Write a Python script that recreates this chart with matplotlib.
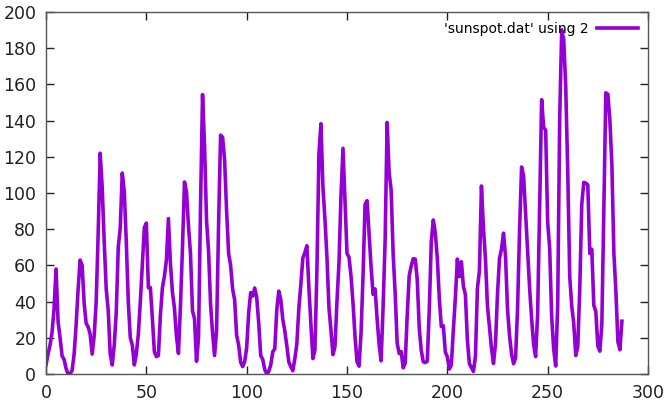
import numpy as np
import matplotlib
matplotlib.use("Agg")
import matplotlib.pyplot as plt

# yearly sunspot numbers, 1700-1987 (row index used as x, like gnuplot "using 2")
sunspots = [
    5, 11, 16, 23, 36, 58, 29, 20, 10, 8, 3, 0, 0, 2, 11, 27, 47, 63, 60, 39,
    28, 26, 22, 11, 21, 40, 78, 122, 103, 73, 47, 35, 11, 5, 16, 34, 70, 81, 111, 101,
    73, 40, 20, 16, 5, 11, 22, 40, 60, 80.9, 83.4, 47.7, 47.8, 30.7, 12.2, 9.6, 10.2, 32.4, 47.6, 54.0,
    62.9, 85.9, 61.2, 45.1, 36.4, 20.9, 11.4, 37.8, 69.8, 106.1, 100.8, 81.6, 66.5, 34.8, 30.6, 7.0, 19.8, 92.5, 154.4, 125.9,
    84.8, 68.1, 38.5, 22.8, 10.2, 24.1, 82.9, 132.0, 130.9, 118.1, 89.9, 66.6, 60.0, 46.9, 41.0, 21.3, 16.0, 6.4, 4.1, 6.8,
    14.5, 34.0, 45.0, 43.1, 47.5, 42.2, 28.1, 10.1, 8.1, 2.5, 0.0, 1.4, 5.0, 12.2, 13.9, 35.4, 45.8, 41.1, 30.1, 23.9,
    15.6, 6.6, 4.0, 1.8, 8.5, 16.6, 36.3, 49.6, 64.2, 67.0, 70.9, 47.8, 27.5, 8.5, 13.2, 56.9, 121.5, 138.3, 103.2, 85.7,
    64.6, 36.7, 24.2, 10.7, 15.0, 40.1, 61.5, 98.5, 124.7, 96.3, 66.6, 64.5, 54.1, 39.0, 20.6, 6.7, 4.3, 22.7, 54.8, 93.8,
    95.8, 77.2, 59.1, 44.0, 47.0, 30.5, 16.3, 7.3, 37.6, 74.0, 139.0, 111.2, 101.6, 66.2, 44.7, 17.0, 11.3, 12.4, 3.4, 6.0,
    32.3, 54.3, 59.7, 63.7, 63.5, 52.2, 25.4, 13.1, 6.8, 6.3, 7.1, 35.6, 73.0, 85.1, 78.0, 64.0, 41.8, 26.2, 26.7, 12.1,
    9.5, 2.7, 5.0, 24.4, 42.0, 63.5, 53.8, 62.0, 48.5, 43.9, 18.6, 5.7, 3.6, 1.4, 9.6, 47.4, 57.1, 103.9, 80.6, 63.6,
    37.6, 26.1, 14.2, 5.8, 16.7, 44.3, 63.9, 69.0, 77.8, 64.9, 35.7, 21.2, 11.1, 5.7, 8.7, 36.1, 79.7, 114.4, 109.6, 88.8,
    67.8, 47.5, 30.6, 16.3, 9.6, 33.2, 92.6, 151.6, 136.3, 134.7, 83.9, 69.4, 31.5, 13.9, 4.4, 38.0, 141.7, 190.2, 184.8, 159.0,
    112.3, 53.9, 37.5, 27.9, 10.2, 15.1, 47.0, 93.8, 105.9, 105.5, 104.5, 66.6, 68.9, 38.0, 34.5, 15.5, 12.6, 27.5, 92.5, 155.4,
    154.6, 140.4, 115.9, 66.6, 45.9, 17.9, 13.4, 29.2,
]
x_ticks = [0, 50, 100, 150, 200, 250, 300]
y_ticks = [0, 20, 40, 60, 80, 100, 120, 140, 160, 180, 200]
label = "'sunspot.dat' using 2"

fig = plt.figure(figsize=(6.67, 4.03), dpi=100)
ax = fig.add_axes([0.069, 0.072, 0.9025, 0.898])

x = np.arange(len(sunspots))
ax.plot(x, sunspots, color="#9400D3", linewidth=2.6, label=label)

ax.set_xlim(0, 300)
ax.set_ylim(0, 200)
ax.set_xticks(x_ticks)
ax.set_yticks(y_ticks)
ax.tick_params(direction="in", top=True, right=True, length=6, width=1,
               labelsize=12.5, colors="#222222", pad=7)
for s in ax.spines.values():
    s.set_color("#555555")
    s.set_linewidth(1)

leg = ax.legend(loc="upper right", frameon=False, fontsize=10,
                markerfirst=False, handlelength=3, borderaxespad=0.3,
                handletextpad=0.6)

fig.savefig("out.png", dpi=100)
